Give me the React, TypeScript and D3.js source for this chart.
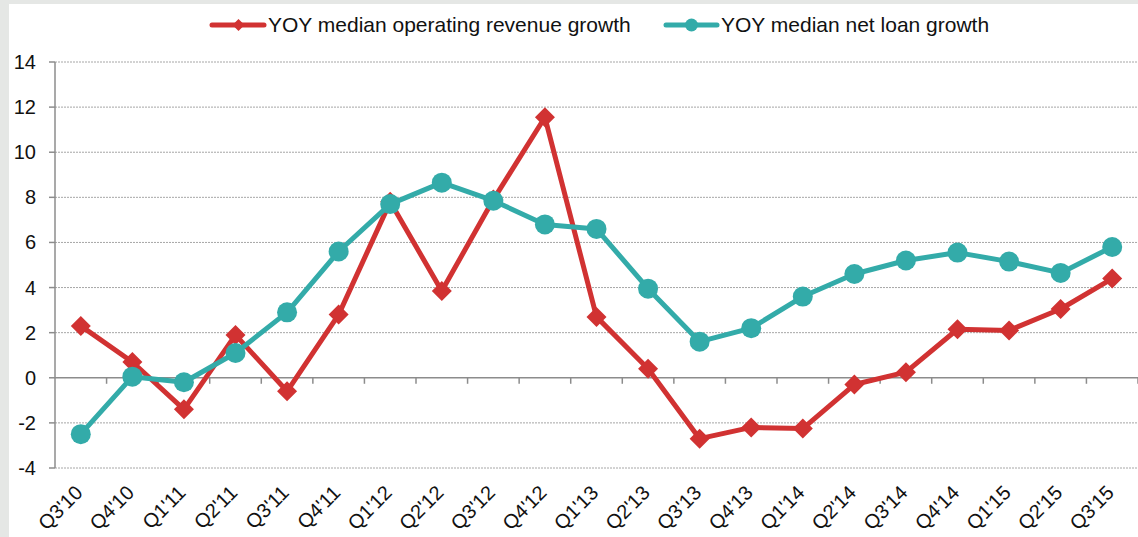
import React from "react";
import * as d3 from "d3";

const categories = ["Q3'10","Q4'10","Q1'11","Q2'11","Q3'11","Q4'11","Q1'12","Q2'12","Q3'12","Q4'12","Q1'13","Q2'13","Q3'13","Q4'13","Q1'14","Q2'14","Q3'14","Q4'14","Q1'15","Q2'15","Q3'15"];
const revenueGrowth = [2.3,0.7,-1.4,1.9,-0.6,2.8,7.8,3.85,7.9,11.55,2.7,0.4,-2.7,-2.2,-2.25,-0.3,0.25,2.15,2.1,3.05,4.4];
const loanGrowth = [-2.5,0.05,-0.2,1.1,2.9,5.6,7.7,8.65,7.85,6.8,6.6,3.95,1.6,2.2,3.6,4.6,5.2,5.55,5.15,4.65,5.8];
const yTicks = [-4,-2,0,2,4,6,8,10,12,14];
const seriesNames = ["YOY median operating revenue growth","YOY median net loan growth"];

const W = 1138, H = 537;
const RED = "#d13232";
const TEAL = "#33aba9";
const FONT = "'Liberation Sans', Arial, sans-serif";

export default function App() {
  const x0 = 55, x1 = 1138;
  const x = d3.scaleBand<string>().domain(categories).range([x0, x1]).padding(0);
  const y = d3.scaleLinear().domain([-4, 14]).range([468, 62]);
  const cx = (c: string) => (x(c) as number) + x.bandwidth() / 2;
  const line = d3.line<number>().x((_, i) => cx(categories[i])).y(v => y(v));
  const diamond = (px: number, py: number, r: number) => `M${px},${py - r}L${px + r},${py}L${px},${py + r}L${px - r},${py}Z`;

  return (
    <svg width={W} height={H} style={{ position: "absolute", left: 0, top: 0, fontFamily: FONT }}>
      <rect x={0} y={0} width={W} height={H} fill="#e5e7e5" />
      <rect x={9} y={4} width={W - 9} height={H - 4} fill="#ffffff" />
      {/* gridlines */}
      {yTicks.filter(t => t !== 0).map(t => (
        <line key={t} x1={x0} x2={x1} y1={y(t)} y2={y(t)} stroke="#a6a6a6" strokeWidth={1} strokeDasharray="2,1" />
      ))}
      {/* y axis */}
      <line x1={x0} x2={x0} y1={y(14)} y2={y(-4)} stroke="#8c8c8c" strokeWidth={1.5} />
      {yTicks.map(t => (
        <g key={t}>
          <line x1={x0 - 6} x2={x0} y1={y(t)} y2={y(t)} stroke="#8c8c8c" strokeWidth={1.5} />
          <text x={36} y={y(t)} dy="0.35em" textAnchor="end" fontSize={20} fill="#111">{t}</text>
        </g>
      ))}
      {/* x axis at 0 */}
      <line x1={x0} x2={x1} y1={y(0)} y2={y(0)} stroke="#8c8c8c" strokeWidth={1.5} />
      {categories.map((c) => (
        <line key={c} x1={(x(c) as number) + x.bandwidth()} x2={(x(c) as number) + x.bandwidth()} y1={y(0)} y2={y(0) + 6} stroke="#8c8c8c" strokeWidth={1.5} />
      ))}
      {categories.map(c => (
        <text key={c} transform={`translate(${cx(c) + 3},${494}) rotate(-45)`} textAnchor="end" fontSize={20} fill="#111">{c}</text>
      ))}
      {/* series */}
      <path d={line(revenueGrowth) as string} fill="none" stroke={RED} strokeWidth={5} strokeLinejoin="round" />
      {revenueGrowth.map((v, i) => (
        <path key={i} d={diamond(cx(categories[i]), y(v), 10)} fill={RED} />
      ))}
      <path d={line(loanGrowth) as string} fill="none" stroke={TEAL} strokeWidth={5} strokeLinejoin="round" />
      {loanGrowth.map((v, i) => (
        <circle key={i} cx={cx(categories[i])} cy={y(v)} r={10} fill={TEAL} />
      ))}
      {/* legend */}
      <g>
        <line x1={212} x2={264} y1={25} y2={25} stroke={RED} strokeWidth={5} strokeLinecap="round" />
        <path d={diamond(238.5, 25, 6)} fill={RED} />
        <text x={268} y={25} dy="0.35em" fontSize={21} fill="#111">{seriesNames[0]}</text>
        <line x1={666} x2={717} y1={25} y2={25} stroke={TEAL} strokeWidth={5} strokeLinecap="round" />
        <circle cx={691.5} cy={25} r={6.5} fill={TEAL} />
        <text x={721} y={25} dy="0.35em" fontSize={21} fill="#111">{seriesNames[1]}</text>
      </g>
    </svg>
  );
}
